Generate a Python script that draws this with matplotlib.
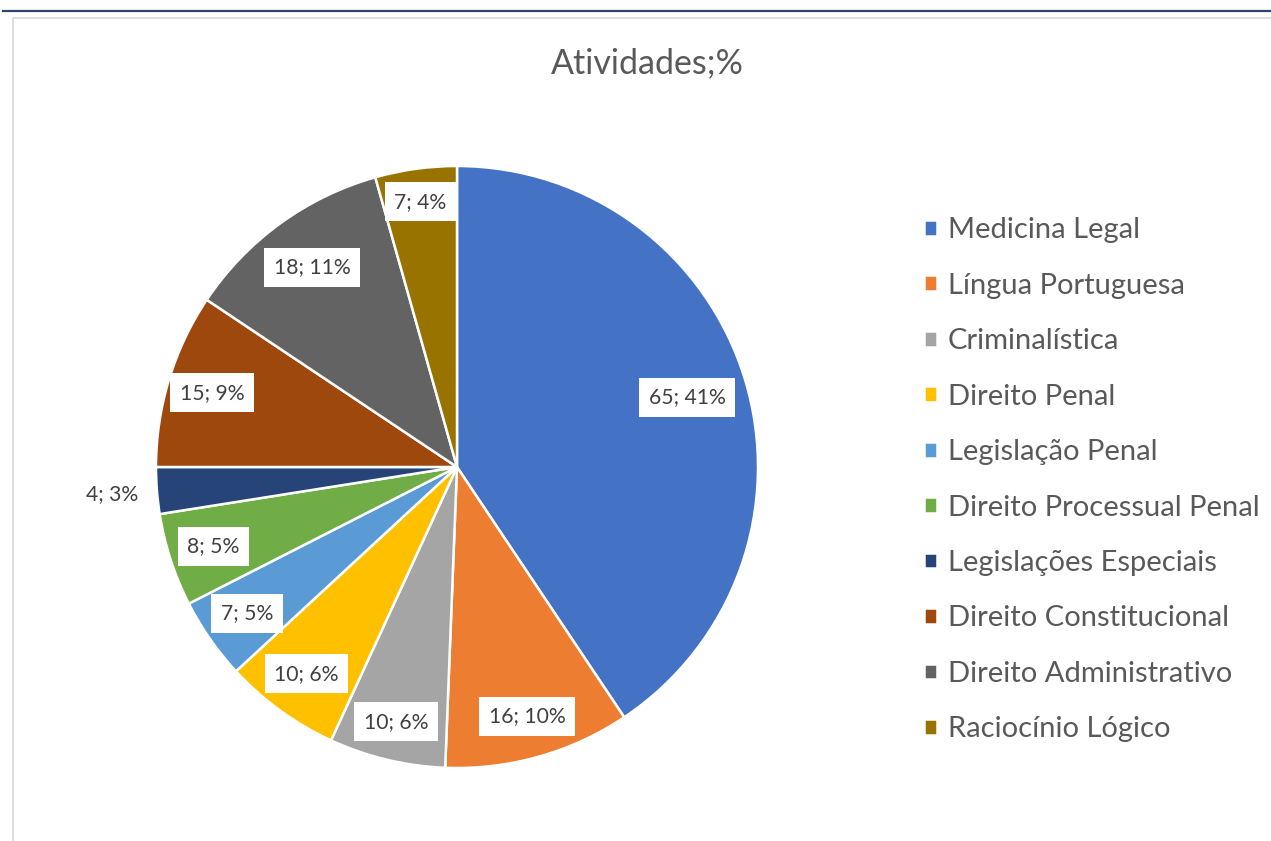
import matplotlib.pyplot as plt
from matplotlib.lines import Line2D
import numpy as np

# data
categorias = ['Medicina Legal', 'Língua Portuguesa', 'Criminalística', 'Direito Penal',
              'Legislação Penal', 'Direito Processual Penal', 'Legislações Especiais',
              'Direito Constitucional', 'Direito Administrativo', 'Raciocínio Lógico']
valores = [65, 16, 10, 10, 7, 8, 4, 15, 18, 7]
percentuais = ['41%', '10%', '6%', '6%', '5%', '5%', '3%', '9%', '11%', '4%']

cores = ['#4472C4', '#ED7D31', '#A5A5A5', '#FFC000', '#5B9BD5',
         '#70AD47', '#264478', '#9E480E', '#636363', '#997300']
# distancia radial de cada rotulo (fracao do raio)
dist_rotulo = [0.80, 0.86, 0.87, 0.85, 0.85, 0.85, 1.15, 0.85, 0.82, 0.89]

plt.rcParams['font.family'] = ['Lato', 'DejaVu Sans']

W, H = 1271, 841
fig = plt.figure(figsize=(W / 100, H / 100), dpi=100)

# moldura
fig.add_artist(Line2D([3 / W, 1], [1 - 11 / H, 1 - 11 / H], color='#2E4467', lw=1.6))
fig.add_artist(Line2D([13 / W, 13 / W, 1], [0, 1 - 18 / H, 1 - 18 / H], color='#D9D9D9', lw=1.2))

cx, cy, r = 457, 467, 301
ax = fig.add_axes([(cx - r) / W, (H - cy - r) / H, 2 * r / W, 2 * r / H])
wedges, _ = ax.pie(valores, colors=cores, startangle=90, counterclock=False,
                   wedgeprops=dict(edgecolor='white', linewidth=1.8))
ax.set_xlim(-1, 1)
ax.set_ylim(-1, 1)
ax.set_aspect('equal')
ax.axis('off')

for i, w in enumerate(wedges):
    ang = np.deg2rad((w.theta1 + w.theta2) / 2)
    d = dist_rotulo[i]
    txt = f'{valores[i]}; {percentuais[i]}'
    ax.text(d * np.cos(ang), d * np.sin(ang), txt, ha='center', va='center',
            fontsize=15.2, color='#404040',
            bbox=dict(boxstyle='square,pad=0.45', fc='white', ec='none'))

fig.text(647 / W, 1 - 63 / H, 'Atividades;%', ha='center', va='center',
         fontsize=24.5, color='#595959')

fig.legend(wedges, categorias, loc='upper left', bbox_to_anchor=(898 / W, 1 - 191 / H),
           frameon=False, fontsize=21, labelcolor='#595959',
           handlelength=0.45, handleheight=0.45, handletextpad=0.35, labelspacing=1.01)

plt.savefig('out.png', dpi=100)
